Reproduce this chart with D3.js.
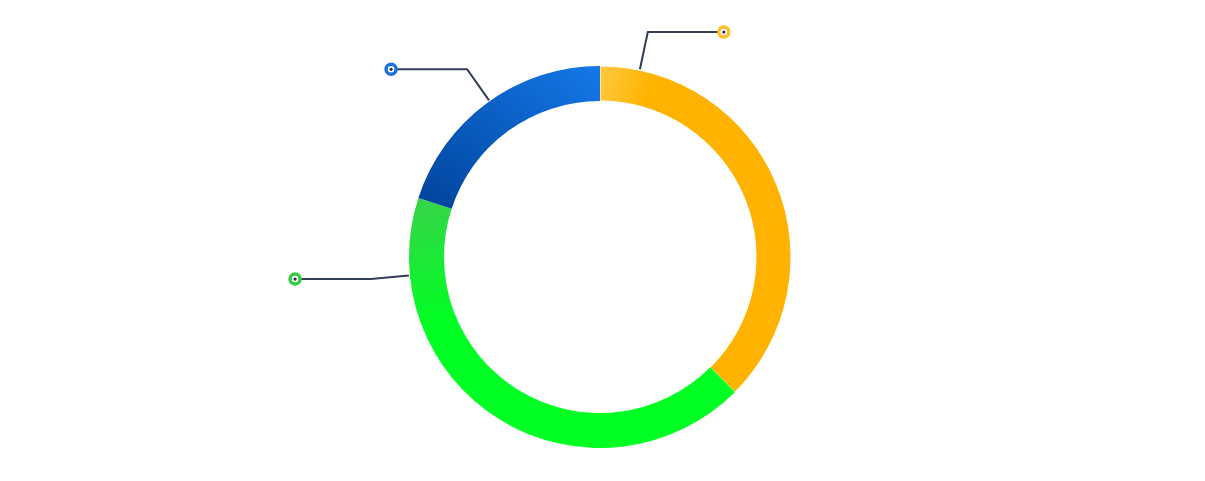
<!DOCTYPE html>
<html><head><meta charset="utf-8">
<script src="https://cdn.jsdelivr.net/npm/d3@7"></script>
<style>html,body{margin:0;padding:0;background:#fff;}svg{display:block;}</style>
</head><body>
<svg id="chart" width="1205" height="481"></svg>
<script>
const categories = ["A", "B", "C"];
const values = [37.5, 42.5, 20];
const labelAngles = [12, 264.5, 324.7]; // degrees clockwise from top where leader lines attach
const colorsLight = ["#ffc940", "#3ad24c", "#1478e8"];
const colorsDark = ["#ffb300", "#00ff22", "#00439b"];
const markerColors = ["#ffbe2e", "#33cc44", "#1a72e0"];

const svg = d3.select("#chart");
const cx = 600, cy = 257, rOuter = 191, rInner = 156;
const g = svg.append("g").attr("transform", `translate(${cx},${cy})`);
const defs = svg.append("defs");

const gradSpec = [
  {x1:"0%",y1:"0%",x2:"25%",y2:"10%"},
  {x1:"0%",y1:"0%",x2:"20%",y2:"45%"},
  {x1:"100%",y1:"0%",x2:"0%",y2:"100%"}
];
categories.forEach((c,i)=>{
  const lg = defs.append("linearGradient").attr("id","grad"+i)
    .attr("x1",gradSpec[i].x1).attr("y1",gradSpec[i].y1).attr("x2",gradSpec[i].x2).attr("y2",gradSpec[i].y2);
  lg.append("stop").attr("offset","0%").attr("stop-color",colorsLight[i]);
  lg.append("stop").attr("offset","100%").attr("stop-color",colorsDark[i]);
});

const pie = d3.pie().sort(null).value(d=>d);
const arcs = pie(values);
const arc = d3.arc().innerRadius(rInner).outerRadius(rOuter);

g.selectAll("path.slice").data(arcs).join("path")
  .attr("class","slice")
  .attr("d", arc)
  .attr("fill",(d,i)=>`url(#grad${i})`)
  .attr("stroke",(d,i)=> i===0 ? "#fff" : "none").attr("stroke-width",1);

const toXY = (deg, r) => { const a = deg*Math.PI/180; return [r*Math.sin(a), -r*Math.cos(a)]; };
categories.forEach((c,i)=>{
  const a = labelAngles[i];
  const p0 = toXY(a, rOuter+1);
  const p1 = toXY(a, 230);
  const dir = p1[0] >= 0 ? 1 : -1;
  const p2 = [p1[0] + dir*76, p1[1]];
  g.append("polyline")
    .attr("points",[p0,p1,p2].map(p=>p.join(",")).join(" "))
    .attr("fill","none").attr("stroke","#333d58").attr("stroke-width",2);
  g.append("circle").attr("cx",p2[0]).attr("cy",p2[1]).attr("r",5)
    .attr("fill","#fff").attr("stroke",markerColors[i]).attr("stroke-width",3.5);
  g.append("circle").attr("cx",p2[0]).attr("cy",p2[1]).attr("r",1.6).attr("fill","#2a3048");
});
</script>
</body></html>
